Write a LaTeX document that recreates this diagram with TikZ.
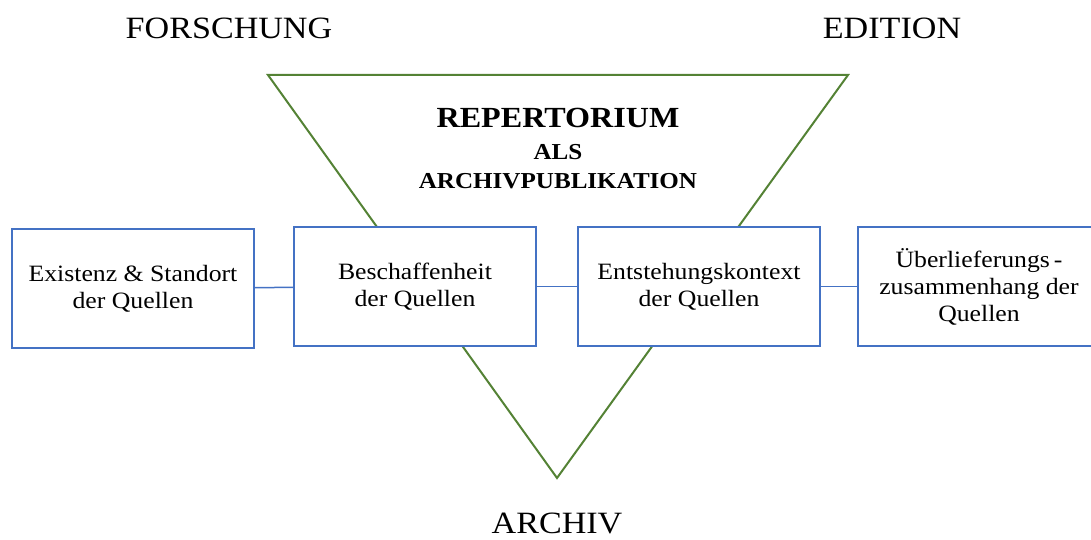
\documentclass[tikz,border=0pt]{standalone}
\usepackage{fontspec}
\setmainfont[FakeStretch=1.1]{Liberation Serif}
\definecolor{boxblue}{HTML}{4472C4}
\definecolor{trigreen}{HTML}{548235}

\begin{document}
\begin{tikzpicture}[x=0.5pt,y=-0.5pt,
  quelle/.style={rectangle,draw=boxblue,fill=white,line width=0.75pt,
    minimum width=121pt,minimum height=59.5pt,inner sep=0pt,align=center,
    font=\fontsize{11.7}{13.5}\selectfont},
  pol/.style={font=\fontsize{15.5}{18}\selectfont},
  link/.style={draw=boxblue,line width=0.75pt}]
\clip (0,0) rectangle (1091,540);

% das umgekehrte Dreieck
\coordinate (TL) at (268,75);
\coordinate (TR) at (848,75);
\coordinate (TB) at (557,478);
\draw[trigreen,line width=1pt] (TL) -- (TR) -- (TB) -- cycle;

\path (558,118) node[font=\bfseries\fontsize{14.6}{18}\selectfont] (rep) {REPERTORIUM};
\path (558,152) node[font=\bfseries\fontsize{11.4}{13}\selectfont] (als) {ALS};
\path (558,181) node[font=\bfseries\fontsize{11.4}{13}\selectfont] (apub) {ARCHIVPUBLIKATION};

\path (229,28) node[pol] (forsch) {FORSCHUNG};
\path (892,28) node[pol] (edit) {EDITION};
\path (557,523) node[pol] (archiv) {ARCHIV};

% die vier Kaesten
\path (133,288.5) node[quelle] (exist) {Existenz \& Standort\\der Quellen};
\path (415,286.5) node[quelle] (besch) {Beschaffenheit\\der Quellen};
\path (699,286.5) node[quelle] (entst) {Entstehungskontext\\der Quellen};
\path (979,286.5) node[quelle] (ueber) {Überlieferungs\,-\\zusammenhang der\\Quellen};

\draw[link] (exist) -- (besch);
\draw[link] (besch) -- (entst);
\draw[link] (entst) -- (ueber);
\end{tikzpicture}
\end{document}
